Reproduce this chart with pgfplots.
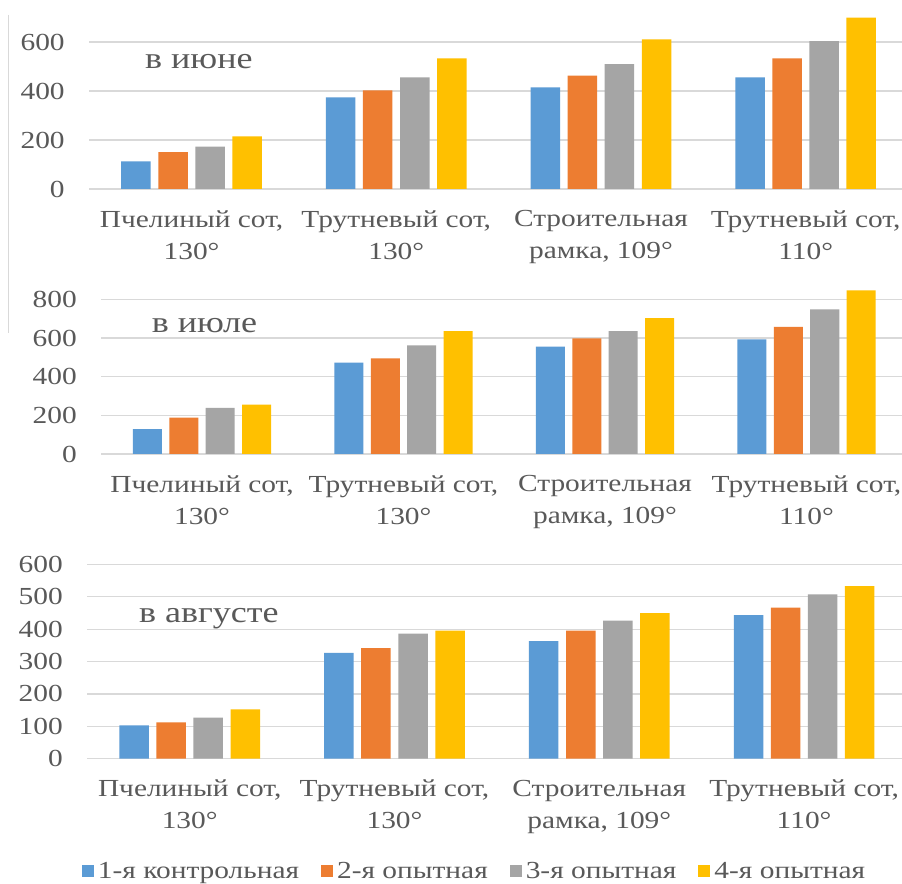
\documentclass[border=0pt]{standalone}
\usepackage{fontspec}
\setmainfont{Liberation Serif}[FakeStretch=1.2]
\usepackage{pgfplots}
\pgfplotsset{compat=1.18}
\definecolor{cA}{HTML}{5B9BD5}
\definecolor{cB}{HTML}{ED7D31}
\definecolor{cC}{HTML}{A5A5A5}
\definecolor{cD}{HTML}{FFC000}
\definecolor{gridc}{HTML}{D9D9D9}
\definecolor{txt}{HTML}{595959}
\tikzset{ttl/.style={anchor=base, font=\fontsize{30bp}{30bp}\selectfont, text=txt}}
\pgfplotsset{
  panel/.style={
    scale only axis, anchor=south west,
    xmin=-0.5, xmax=3.5, ymin=0,
    xtick={0,1,2,3},
    xticklabels={{Пчелиный сот,\\130°},{Трутневый сот,\\130°},{Строительная\\рамка, 109°},{Трутневый сот,\\110°}},
    axis line style={draw=none},
    major tick length=0pt,
    ymajorgrids, grid style={gridc, line width=1.2bp},
    ybar, bar width=0.144,
    /pgf/number format/assume math mode=true,
    tick label style={font=\fontsize{24.5bp}{32bp}\selectfont, text=txt},
    xticklabel style={align=center, yshift=-18bp},
    yticklabel style={xshift=-21bp},
  },
  sA/.style={fill=cA, draw=none, bar shift=-0.2715},
  sB/.style={fill=cB, draw=none, bar shift=-0.0905},
  sC/.style={fill=cC, draw=none, bar shift=0.0905},
  sD/.style={fill=cD, draw=none, bar shift=0.2715},
}
\begin{document}
\begin{tikzpicture}
\path[use as bounding box] (0,0) rectangle (902bp,884bp);
\clip (0,0) rectangle (902bp,884bp);
\fill[white] (0,0) rectangle (902bp,884bp);
\draw[gridc, line width=1bp] (8bp,869bp) -- (8bp,551bp);
% June
\begin{axis}[panel, at={(89.2bp,695bp)}, width=818.8bp, height=196bp,
  ymax=800, ytick={0,200,400,600}]
\addplot[sA] coordinates {(0,113) (1,374) (2,415) (3,456)};
\addplot[sB] coordinates {(0,150) (1,403) (2,463) (3,533)};
\addplot[sC] coordinates {(0,173) (1,456) (2,510) (3,604)};
\addplot[sD] coordinates {(0,215) (1,533) (2,611) (3,699)};
\node[ttl] at (axis cs:0.036,493) {в июне};
\end{axis}
% July
\begin{axis}[panel, at={(101.25bp,430bp)}, width=806bp, height=174bp,
  ymax=900, ytick={0,200,400,600,800}]
\addplot[sA] coordinates {(0,128) (1,472) (2,555) (3,593)};
\addplot[sB] coordinates {(0,188) (1,494) (2,598) (3,658)};
\addplot[sC] coordinates {(0,239) (1,562) (2,636) (3,748)};
\addplot[sD] coordinates {(0,255) (1,636) (2,703) (3,846)};
\node[ttl] at (axis cs:0.012,627) {в июле};
\end{axis}
% August
\begin{axis}[panel, at={(87.3bp,125.3bp)}, width=819.2bp, height=194.4bp,
  ymax=600, ytick={0,100,200,300,400,500,600},
  legend columns=4,
  legend image code/.code={\fill[#1] (0bp,-6bp) rectangle (12bp,6bp);},
  legend style={at={(0.4727,0)}, anchor=center, yshift=-112bp, draw=none, fill=none,
    font=\fontsize{24.5bp}{32bp}\selectfont, text=txt,
    /tikz/every odd column/.append style={column sep=2bp},
    /tikz/every even column/.append style={column sep=20bp}}]
\addplot[sA] coordinates {(0,103) (1,327) (2,363) (3,443)};
\addplot[sB] coordinates {(0,112) (1,341) (2,395) (3,466)};
\addplot[sC] coordinates {(0,127) (1,386) (2,426) (3,507)};
\addplot[sD] coordinates {(0,152) (1,395) (2,449) (3,533)};
\legend{1-я контрольная, 2-я опытная, 3-я опытная, 4-я опытная}
\node[ttl] at (axis cs:0.094,420) {в августе};
\end{axis}
\end{tikzpicture}
\end{document}
